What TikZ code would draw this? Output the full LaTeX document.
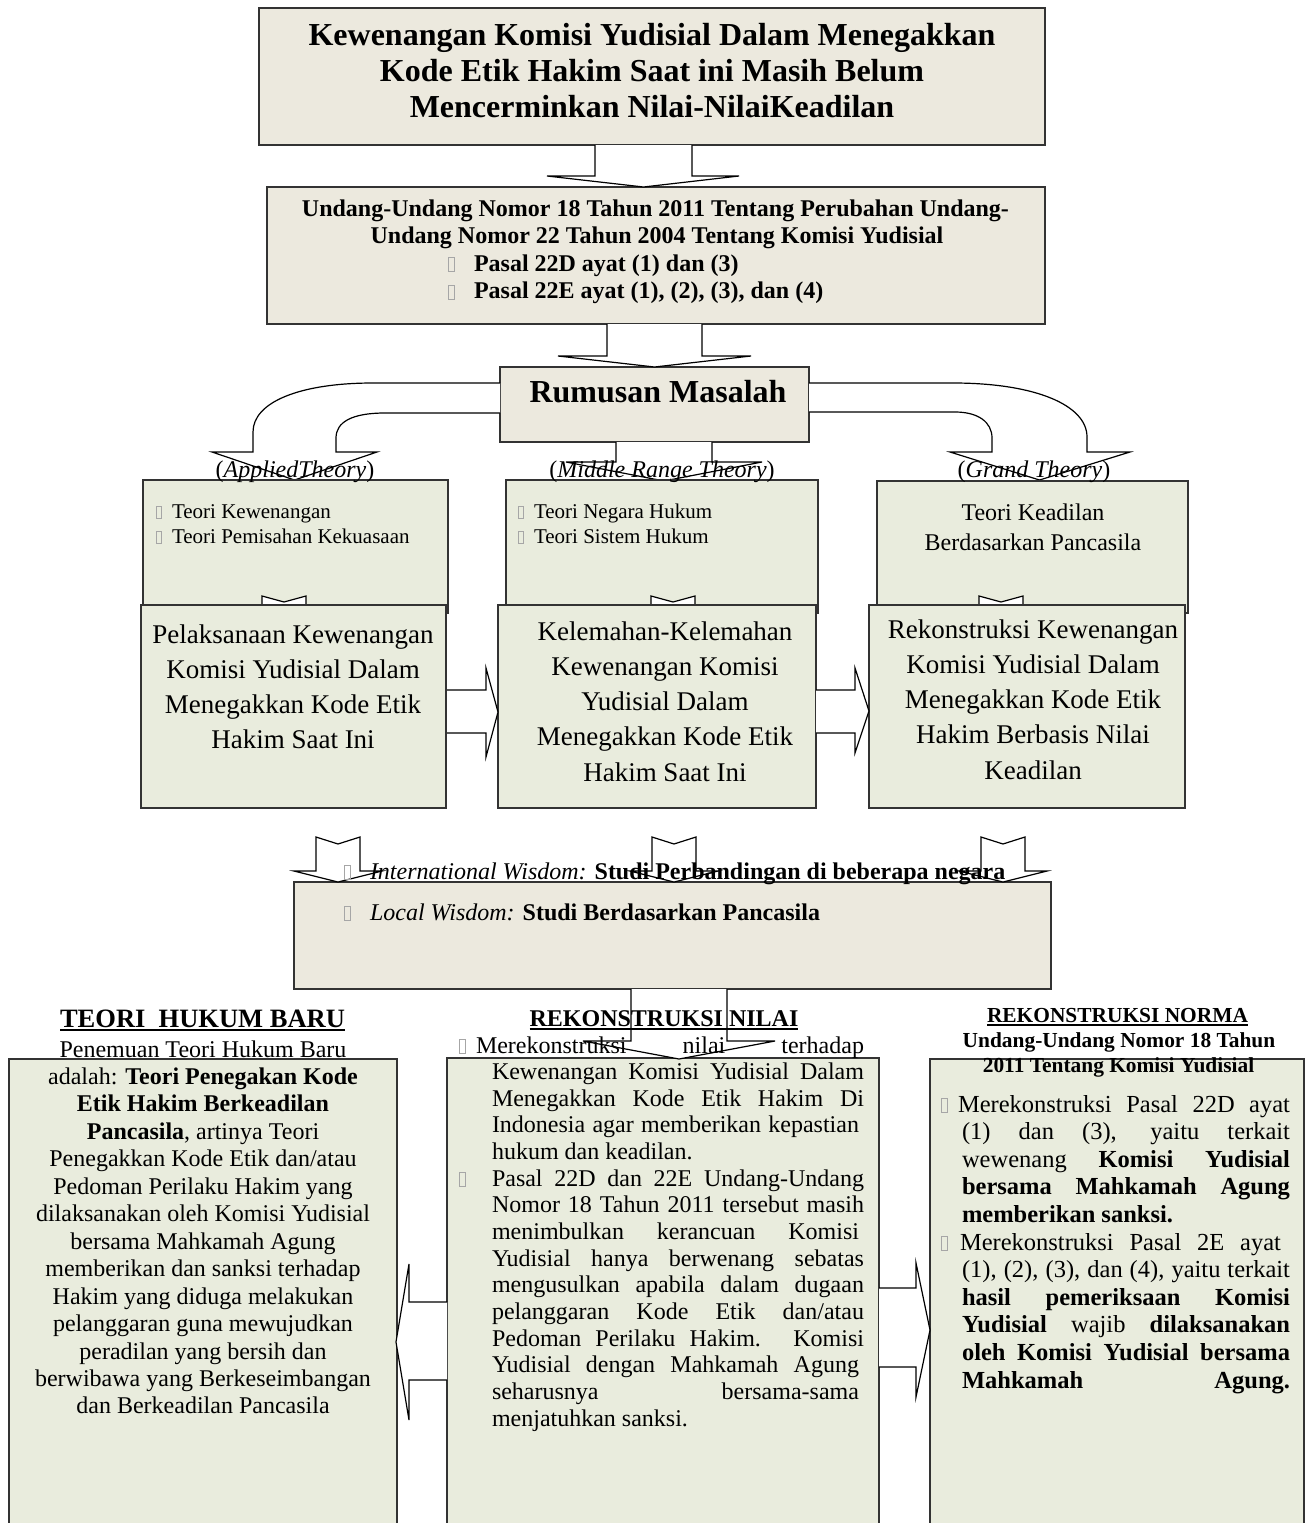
\documentclass[tikz,border=0pt]{standalone}
\usepackage{fontspec}
\setmainfont{Liberation Serif}
\definecolor{beige}{RGB}{236,233,222}
\definecolor{pale}{RGB}{233,236,221}
\newcommand{\tofu}{{\color{black!35}\setlength{\fboxsep}{0pt}\setlength{\fboxrule}{0.7pt}\fbox{\rule{0pt}{0.55em}\hspace{0.22em}}}}
\newcommand{\fs}[2]{\fontsize{#1}{#2}\selectfont}
\newcommand{\JL}[1]{\hbox to \hsize{#1}}
\newcommand{\LL}[1]{\hbox to \hsize{#1\hfil}}
\newcommand{\CL}[1]{\hbox to \hsize{\hfil#1\hfil}}
\newcommand{\ulin}[1]{\leavevmode\setbox0=\hbox{#1}\rlap{\rule[-3.5pt]{\wd0}{1.8pt}}\box0}
\begin{document}
\begin{tikzpicture}[x=1pt,y=-1pt,
  box/.style={draw=black!80, line width=1.3pt, inner sep=0pt, outer sep=0pt},
  arr/.style={draw=black, fill=white, line width=1.2pt, line join=miter},
  txt/.style={inner sep=0pt, outer sep=0pt}]
\useasboundingbox (0,0) rectangle (1305,1523);
% top boxes
\node[box, fill=beige, minimum width=786pt, minimum height=137pt] (title) at (652,76.5) {};
\node[box, fill=beige, minimum width=778pt, minimum height=137pt] (uu) at (656,255.5) {};
\node[box, fill=beige, minimum width=309pt, minimum height=75pt] (rm) at (654.5,404.5) {};
\draw[arr] (595,145) -- (595,176) -- (547,176) -- (643.5,187) -- (739,176) -- (692,176) -- (692,145);
\draw[arr] (607,324) -- (607,356) -- (558,356) -- (654.5,367) -- (751,356) -- (702,356) -- (702,324);
\draw[arr] (616,442) -- (616,462) -- (566,462) -- (664,481) -- (762,462) -- (712,462) -- (712,442);
\draw[arr] (500,383) -- (373,383) .. controls (300,383) and (253,402) .. (253,432) -- (253,452) -- (212,452) -- (294.5,480) -- (377,452) -- (336,452) -- (336,438) .. controls (336,422) and (352,413) .. (385,413) -- (500,413);
\draw[arr] (809,383) -- (953,383) .. controls (1035,383) and (1087,405) .. (1087,437) -- (1087,452) -- (1130,452) -- (1039.5,480) -- (950,452) -- (992,452) -- (992,438) .. controls (992,422) and (978,412) .. (955,412) -- (809,412);
% theory boxes
\node[box, fill=pale, minimum width=305pt, minimum height=133pt] (th1) at (295.5,546.5) {};
\node[box, fill=pale, minimum width=312pt, minimum height=133pt] (th2) at (662,546.5) {};
\node[box, fill=pale, minimum width=311pt, minimum height=132pt] (th3) at (1032.5,547) {};
\foreach \c in {284,673,1001}
  \draw[arr] ({\c-22},596) -- (\c,602) -- ({\c+22},596) -- ({\c+22},625) -- ({\c+40},625) -- (\c,640) -- ({\c-40},625) -- ({\c-22},625) -- cycle;
\node[box, fill=pale, minimum width=305pt, minimum height=203pt] (lo1) at (293.5,706.5) {};
\node[box, fill=pale, minimum width=318pt, minimum height=203pt] (lo2) at (657,706.5) {};
\node[box, fill=pale, minimum width=316pt, minimum height=203pt] (lo3) at (1027,706.5) {};
\draw[arr] (447,690) -- (486,690) -- (486,668) -- (498,712) -- (486,757) -- (486,733) -- (447,733);
\draw[arr] (816,690) -- (855,690) -- (855,668) -- (869,711) -- (855,753) -- (855,733) -- (816,733);
% wisdom
\node[box, fill=beige, minimum width=757pt, minimum height=107pt] (wis) at (672.5,935.5) {};
\foreach \c in {338,674,1003}
  \draw[arr] ({\c-22},837) -- (\c,844) -- ({\c+22},837) -- ({\c+22},871) -- ({\c+44},871) -- (\c,882) -- ({\c-44},871) -- ({\c-22},871) -- cycle;
% bottom boxes
\node[box, fill=pale, minimum width=388pt, minimum height=476pt] (b1) at (203,1297) {};
\node[box, fill=pale, minimum width=432pt, minimum height=477pt] (b2) at (663,1296.5) {};
\node[box, fill=pale, minimum width=374pt, minimum height=476pt] (b3) at (1117,1297) {};
\draw[arr] (631,989) -- (631,1041) -- (583,1041) -- (679,1059) -- (775,1041) -- (727,1041) -- (727,989);
\draw[arr] (447,1302) -- (409,1302) -- (409,1264) -- (396,1342) -- (409,1420) -- (409,1380) -- (447,1380);
\draw[arr] (879,1288) -- (916,1288) -- (916,1263) -- (930,1330) -- (916,1397) -- (916,1367) -- (879,1367);
% texts
\node[txt, anchor=base] (ttitle) at (652,45) {\vtop{\hsize=780pt\fs{32}{36.5}\bfseries
  \CL{Kewenangan Komisi Yudisial Dalam Menegakkan}
  \CL{Kode Etik Hakim Saat ini Masih Belum}
  \CL{Mencerminkan Nilai-NilaiKeadilan}}};
\node[txt, anchor=base] (tuu1) at (655.5,216) {\fs{24}{27.5}\bfseries Undang-Undang Nomor 18 Tahun 2011 Tentang Perubahan Undang-};
\node[txt, anchor=base] (tuu2) at (657,243.5) {\fs{24}{27.5}\bfseries Undang Nomor 22 Tahun 2004 Tentang Komisi Yudisial};
\node[txt, anchor=base west] (tuu3) at (448,271) {\fs{24}{27.5}\hbox to 26pt{\tofu\hfil}\textbf{Pasal 22D ayat (1) dan (3)}};
\node[txt, anchor=base west] (tuu4) at (448,298.5) {\fs{24}{27.5}\hbox to 26pt{\tofu\hfil}\textbf{Pasal 22E ayat (1), (2), (3), dan (4)}};
\node[txt, anchor=base] (trm) at (658,402) {\fs{32}{36}\bfseries Rumusan Masalah};
\node[txt, anchor=base] (lab1) at (295,477) {\fs{24}{28}(\textit{AppliedTheory})};
\node[txt, anchor=base] (lab2) at (662,477) {\fs{24}{28}(\textit{Middle Range Theory})};
\node[txt, anchor=base] (lab3) at (1034,477) {\fs{24}{28}(\textit{Grand Theory})};
\node[txt, anchor=base west] (tth1) at (156,518) {\vtop{\hsize=280pt\fs{21}{25}
  \LL{\hbox to 16pt{\tofu\hfil}Teori Kewenangan}
  \LL{\hbox to 16pt{\tofu\hfil}Teori Pemisahan Kekuasaan}}};
\node[txt, anchor=base west] (tth2) at (518,518) {\vtop{\hsize=280pt\fs{21}{25}
  \LL{\hbox to 16pt{\tofu\hfil}Teori Negara Hukum}
  \LL{\hbox to 16pt{\tofu\hfil}Teori Sistem Hukum}}};
\node[txt, anchor=base] (tth3) at (1033,520) {\vtop{\hsize=300pt\fs{24}{30}
  \CL{Teori Keadilan}
  \CL{Berdasarkan Pancasila}}};
\node[txt, anchor=base] (tlo1) at (293,643) {\vtop{\hsize=300pt\fs{27}{35.3}
  \CL{Pelaksanaan Kewenangan}
  \CL{Komisi Yudisial Dalam}
  \CL{Menegakkan Kode Etik}
  \CL{Hakim Saat Ini}}};
\node[txt, anchor=base] (tlo2) at (665,640) {\vtop{\hsize=310pt\fs{27}{35.3}
  \CL{Kelemahan-Kelemahan}
  \CL{Kewenangan Komisi}
  \CL{Yudisial Dalam}
  \CL{Menegakkan Kode Etik}
  \CL{Hakim Saat Ini}}};
\node[txt, anchor=base] (tlo3) at (1033,638) {\vtop{\hsize=310pt\fs{27}{35.3}
  \CL{Rekonstruksi Kewenangan}
  \CL{Komisi Yudisial Dalam}
  \CL{Menegakkan Kode Etik}
  \CL{Hakim Berbasis Nilai}
  \CL{Keadilan}}};
\node[txt, anchor=base west] (tintl) at (344,879) {\fs{24}{28}\hbox to 26pt{\tofu\hfil}\textit{International Wisdom:} \textbf{Studi Perbandingan di beberapa negara}};
\node[txt, anchor=base west] (tlocal) at (344,920) {\fs{24}{28}\hbox to 26pt{\tofu\hfil}\textit{Local Wisdom:} \textbf{Studi Berdasarkan Pancasila}};
% bottom headings
\node[txt, anchor=base] (h1) at (202.5,1027) {\fs{26.5}{30}\bfseries\ulin{TEORI\ \ HUKUM BARU}};
\node[txt, anchor=base] (h2) at (664,1026) {\fs{24}{28}\bfseries\ulin{REKONSTRUKSI NILAI}};
\node[txt, anchor=base] (h3) at (1117.5,1022) {\fs{21.4}{25}\bfseries\ulin{REKONSTRUKSI NORMA}};
\node[txt, anchor=base] (h3a) at (1119,1047) {\fs{21.4}{25}\bfseries Undang-Undang Nomor 18 Tahun};
\node[txt, anchor=base] (h3b) at (1118.5,1072) {\fs{21.4}{25}\bfseries 2011 Tentang Komisi Yudisial};
% bottom texts
\node[txt, anchor=base] (tb1) at (203,1057) {\vtop{\hsize=390pt\fs{24}{27.46}
  \CL{Penemuan Teori Hukum Baru}
  \CL{adalah: \textbf{Teori Penegakan Kode}}
  \CL{\textbf{Etik Hakim Berkeadilan}}
  \CL{\textbf{Pancasila}, artinya Teori}
  \CL{Penegakkan Kode Etik dan/atau}
  \CL{Pedoman Perilaku Hakim yang}
  \CL{dilaksanakan oleh Komisi Yudisial}
  \CL{bersama Mahkamah Agung}
  \CL{memberikan dan sanksi terhadap}
  \CL{Hakim yang diduga melakukan}
  \CL{pelanggaran guna mewujudkan}
  \CL{peradilan yang bersih dan}
  \CL{berwibawa yang Berkeseimbangan}
  \CL{dan Berkeadilan Pancasila}}};
\node[txt, anchor=base west] (tb2) at (459,1053) {\vtop{\hsize=405pt\fs{24}{26.65}
  \JL{\hbox to 17pt{\tofu\hfil}Merekonstruksi nilai terhadap}
  \JL{\hskip33pt Kewenangan Komisi Yudisial Dalam}
  \JL{\hskip33pt Menegakkan Kode Etik Hakim Di}
  \hbox to 400pt{\hskip33pt Indonesia agar memberikan kepastian}
  \LL{\hskip33pt hukum dan keadilan.}
  \JL{\hbox to 33pt{\tofu\hfil}Pasal 22D dan 22E Undang-Undang}
  \JL{\hskip33pt Nomor 18 Tahun 2011 tersebut masih}
  \hbox to 400pt{\hskip33pt menimbulkan kerancuan Komisi}
  \JL{\hskip33pt Yudisial hanya berwenang sebatas}
  \JL{\hskip33pt mengusulkan apabila dalam dugaan}
  \JL{\hskip33pt pelanggaran Kode Etik dan/atau}
  \JL{\hskip33pt Pedoman Perilaku Hakim. Komisi}
  \hbox to 400pt{\hskip33pt Yudisial dengan Mahkamah Agung}
  \hbox to 400pt{\hskip33pt seharusnya bersama-sama}
  \LL{\hskip33pt menjatuhkan sanksi.}}};
\node[txt, anchor=base west] (tb3) at (941,1112) {\vtop{\hsize=349pt\fs{24.5}{27.6}
  \JL{\hbox to 17pt{\tofu\hfil}Merekonstruksi Pasal 22D ayat}
  \JL{\hskip21pt (1) dan (3), yaitu terkait}
  \JL{\hskip21pt wewenang \textbf{Komisi Yudisial}}
  \JL{\hskip21pt\textbf{bersama Mahkamah Agung}}
  \LL{\hskip21pt\textbf{memberikan sanksi.}}
  \hbox to 340pt{\hbox to 19pt{\tofu\hfil}Merekonstruksi Pasal 2E ayat}
  \JL{\hskip21pt (1), (2), (3), dan (4), yaitu terkait}
  \JL{\hskip21pt\textbf{hasil pemeriksaan Komisi}}
  \JL{\hskip21pt\textbf{Yudisial} wajib \textbf{dilaksanakan}}
  \JL{\hskip21pt\textbf{oleh Komisi Yudisial bersama}}
  \JL{\hskip21pt\textbf{Mahkamah Agung.}}}};
\end{tikzpicture}
\end{document}
